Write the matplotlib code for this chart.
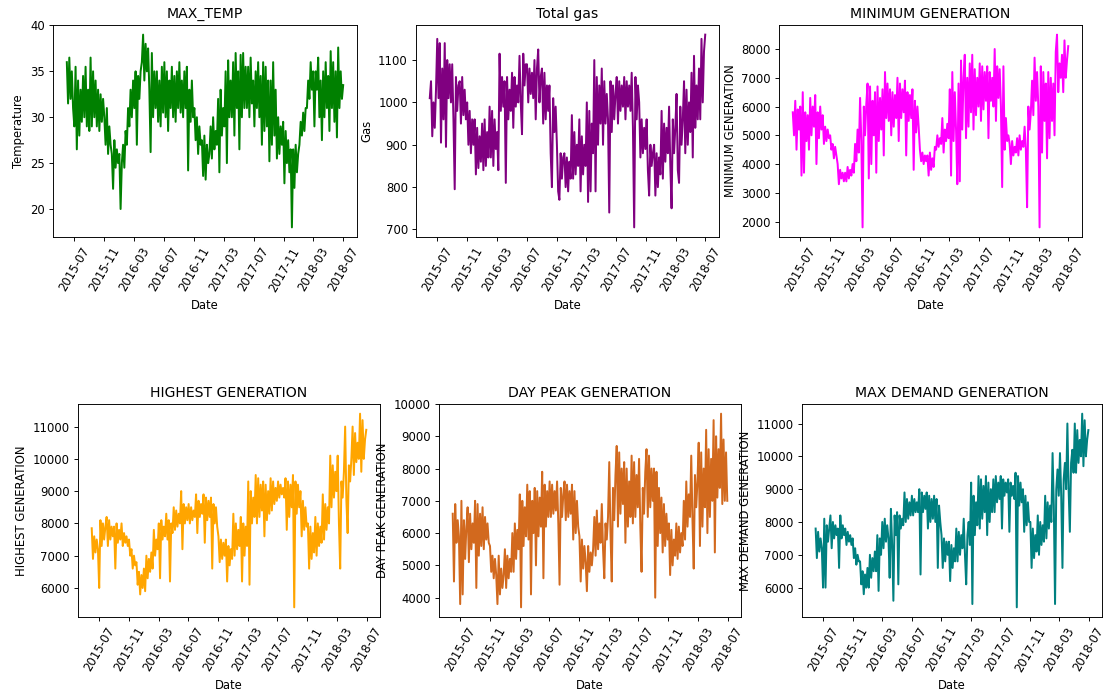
import numpy as np
import pandas as pd
import matplotlib
matplotlib.use("Agg")
import matplotlib.pyplot as plt
import matplotlib.dates as mdates

# six readings per month, Jun 2015 .. Jun 2018
max_temp = [
    36, 31.5, 36.5, 32, 35, 31,        29, 35.5, 26.5, 34, 28, 33,
    29.5, 34.5, 30, 35.5, 29, 33,      28.5, 36.5, 29, 35, 30, 34,
    29, 33, 28.5, 32.5, 29.5, 32,      30, 27, 31, 26, 29, 27,
    26, 22.2, 27.5, 24.5, 26.5, 25,
    26, 20, 25, 27, 24.5, 28.5,        27, 31, 29, 33, 30, 34,
    31, 35, 27, 34.5, 32, 35,          36, 39, 34, 38, 35, 37.5,
    33, 26.2, 37, 30, 35, 31,          35, 29.5, 34, 29, 35.5, 30.5,
    36, 30, 35, 28.5, 34, 31,          35.5, 30, 34.5, 29.5, 35, 31,
    36, 30.5, 34, 30, 35, 31,          35.5, 24.2, 33, 29.5, 34, 30,
    31, 27.5, 30, 26, 29, 27,          27.5, 23.6, 28, 23.2, 27, 25,
    26, 29, 25.5, 30, 26.5, 28.5,      27, 32, 24, 33, 28, 31,
    29, 35, 25, 36.2, 30, 34,          30, 36, 28, 37, 31, 35,
    26.5, 36.8, 30, 37, 31, 35.5,      31, 35.5, 30, 36.5, 31.5, 34,
    29, 35, 31, 36, 30, 34.5,          27, 36, 28.5, 35.5, 29, 34,
    25.2, 34, 27, 36, 28, 33,          25.5, 30, 26, 29, 27, 29.5,
    22.8, 28.5, 25, 27.5, 24, 26.5,    18, 26.5, 22.3, 27, 24, 26,
    27, 29.5, 28, 30.5, 28.5, 31,      31, 34, 32, 36, 33, 35,
    29, 35, 33, 36.5, 30, 34,          27.5, 35, 30, 36, 31, 34.5,
    28.5, 37.2, 31, 36, 29.5, 35,      27.8, 37.6, 31, 35, 32, 33.5,
]

total_gas = [
    1010, 1050, 920, 1000, 940, 1030,   1150, 1010, 1140, 905, 1080, 960,
    1140, 895, 1100, 1010, 1090, 1000,  1090, 960, 795, 1060, 980, 1040,
    1050, 950, 1060, 970, 1030, 960,    1000, 900, 980, 880, 960, 900,
    960, 830, 940, 845, 920, 860,
    950, 840, 960, 850, 930, 870,       990, 870, 980, 850, 960, 890,
    930, 840, 1115, 980, 1060, 990,     1050, 810, 1060, 960, 1030, 980,
    1070, 940, 1060, 990, 1040, 1000,   1110, 1000, 925, 1115, 1040, 1090,
    1090, 1000, 1080, 1020, 1070, 1010, 1100, 960, 1080, 1125, 1000, 1060,
    1080, 950, 1070, 960, 1040, 980,    1040, 880, 800, 1010, 930, 990,
    900, 790, 770, 880, 820, 870,       880, 800, 870, 790, 860, 820,
    970, 820, 930, 830, 900, 850,       960, 790, 920, 830, 900, 850,
    1000, 765, 980, 790, 950, 880,      1100, 790, 1060, 900, 1040, 950,
    1080, 900, 1050, 950, 1020, 960,    740, 1050, 930, 1040, 960, 1020,
    1060, 950, 1050, 980, 1040, 990,    1060, 960, 1050, 990, 1040, 980,
    1070, 940, 705, 1060, 960, 1040,    1000, 870, 960, 880, 940, 890,
    960, 840, 780, 900, 850, 880,       900, 780, 880, 800, 870, 830,
    980, 820, 950, 860, 940, 880,       990, 850, 750, 960, 880, 940,
    1020, 840, 810, 990, 900, 960,      1050, 880, 1030, 900, 1000, 930,
    1070, 870, 1110, 940, 1040, 960,    1080, 960, 1150, 1000, 1120, 1160,
]

min_gen = [
    5800, 5000, 6200, 4500, 5900, 5200,  6000, 3600, 6500, 3700, 5800, 4800,
    5700, 4500, 6300, 5000, 6000, 5300,  6400, 4000, 5800, 4900, 6000, 5200,
    5700, 4700, 5300, 4800, 5200, 4900,  5000, 4500, 4700, 4200, 4600, 4300,
    4000, 3300, 3800, 3500, 3700, 3400,
    3700, 3400, 3900, 3500, 3800, 3600,  4000, 3700, 4700, 4100, 5200, 4400,
    6300, 4800, 1800, 6000, 5000, 6100,  6800, 3500, 6700, 4000, 6200, 5000,
    6500, 3700, 6700, 4800, 6300, 5200,  6600, 4300, 7200, 5600, 6800, 5500,
    6600, 5000, 6500, 5300, 6400, 5600,  7000, 4800, 6800, 5600, 6600, 5800,
    6900, 4300, 6500, 5500, 6400, 5600,  6600, 3800, 6200, 5100, 6000, 5300,
    4500, 4100, 4400, 4000, 4300, 4100,  4300, 3600, 4400, 3800, 4200, 3900,
    4600, 4500, 5000, 4600, 4900, 4700,  5600, 4400, 5200, 4800, 5400, 4900,
    6600, 3600, 7200, 4800, 6500, 5200,  3300, 6800, 3400, 7600, 5200, 7000,
    7800, 4900, 7000, 5300, 7500, 5800,  7800, 5200, 7300, 5700, 7000, 6000,
    7500, 5500, 7400, 5900, 7200, 6200,  7400, 4900, 7200, 6200, 7000, 6000,
    8000, 5500, 7400, 6300, 7300, 6000,  3200, 7400, 4500, 5600, 4800, 5000,
    4700, 4000, 4800, 4300, 4600, 4400,  4900, 4300, 5000, 4500, 4800, 4600,
    5300, 4500, 2500, 6000, 5200, 5800,  6900, 5700, 7700, 6200, 7200, 6000,
    1800, 7400, 4400, 7200, 5500, 6800,  4200, 7200, 4900, 7000, 5500, 6800,
    5000, 7900, 8500, 6500, 7500, 7000,  7800, 6500, 8300, 7000, 7600, 8100,
]

high_gen = [
    7850, 6900, 7600, 7100, 7500, 7200,  6000, 8100, 7300, 8000, 7500, 7900,
    8200, 7300, 8100, 7500, 7900, 7600,  7900, 6600, 8000, 7400, 7800, 7500,
    8000, 7300, 7700, 7400, 7600, 7300,  7500, 7000, 7200, 6600, 7000, 6700,
    6800, 6100, 6500, 5800, 6400, 6000,
    6600, 5900, 7000, 6300, 6900, 6500,  7100, 6600, 7800, 7000, 7500, 7200,
    8000, 6300, 8100, 7500, 7900, 7600,  8300, 7500, 8100, 6200, 8000, 7700,
    8500, 7800, 8400, 7900, 8300, 8000,  9000, 7200, 8600, 8000, 8500, 8100,
    8600, 8000, 8500, 8100, 8400, 8200,  8900, 7700, 8700, 8200, 8600, 8300,
    8900, 7400, 8800, 8100, 8700, 8200,  8800, 6600, 8600, 8000, 8500, 7900,
    7600, 6800, 7500, 6900, 7400, 7000,  7500, 6200, 7300, 6700, 7200, 6900,
    8300, 7000, 8000, 7200, 7800, 7300,  8200, 6200, 8000, 7000, 7900, 7300,
    9300, 6100, 9000, 8000, 8800, 8200,  9500, 8000, 9400, 8200, 9200, 8400,
    9300, 7600, 9200, 8100, 9000, 8300,  9400, 8400, 9300, 8600, 9100, 8700,
    9300, 8800, 9200, 8900, 9100, 8800,  9400, 7800, 9300, 8200, 9200, 8500,
    9500, 5400, 9300, 8300, 9200, 8500,  9000, 7600, 8700, 7800, 8500, 7900,
    8000, 6600, 7900, 6900, 7700, 7100,  8200, 7000, 8000, 7300, 7900, 7400,
    8900, 7500, 8600, 7800, 8500, 8000,  10100, 8500, 9800, 8800, 9600, 9000,
    10100, 8000, 6600, 9300, 8800, 9600, 11000, 8700, 7700, 9800, 9300, 10000,
    11000, 9500, 10800, 9900, 10500, 10000, 11400, 9600, 11200, 10000, 10600, 10900,
]

day_peak = [
    6600, 4500, 6900, 5700, 6400, 5900,  3800, 7000, 4100, 6400, 5200, 6200,
    6800, 5100, 6600, 5500, 6300, 5700,  7000, 4300, 6900, 5300, 6600, 5600,
    6800, 5500, 6500, 5800, 6300, 5700,  5600, 4800, 5300, 4600, 5200, 4700,
    3800, 5300, 4100, 4900, 4300, 4700,
    5500, 4300, 5300, 4600, 5200, 4800,  6000, 4800, 6300, 5200, 6100, 5500,
    7200, 3700, 7000, 5600, 6800, 5900,  7500, 5800, 7300, 4100, 7000, 6000,
    7400, 5000, 7300, 5900, 7100, 6200,  7900, 4600, 7500, 6200, 7300, 6500,
    7600, 6500, 7500, 6600, 7300, 6700,  7600, 6300, 4400, 7400, 6500, 7200,
    7600, 6400, 7500, 6500, 7300, 6600,  7500, 5800, 7300, 6000, 7000, 6200,
    5900, 4500, 5800, 4900, 5600, 5100,  4200, 5600, 4800, 5400, 5000, 5500,
    6500, 5300, 6700, 5500, 6300, 5700,  6900, 5500, 4600, 6300, 5800, 6500,
    8200, 6000, 4500, 7400, 6400, 7800,  8700, 6200, 8500, 6600, 8000, 6900,
    8200, 5700, 8000, 6200, 7600, 6500,  8400, 6300, 8200, 6500, 7800, 6800,
    8300, 6200, 4800, 7400, 6600, 7900,  8600, 6500, 8400, 6800, 8000, 7000,
    8000, 4000, 7900, 5600, 7400, 6000,  7100, 5400, 6900, 5600, 6600, 5800,
    6300, 4700, 6100, 5000, 5800, 5300,  6300, 5200, 6200, 5400, 6000, 5600,
    7000, 5800, 7600, 6200, 7200, 6500,  8400, 6400, 4900, 7800, 6800, 7600,
    8800, 5600, 8500, 6200, 8000, 6800,  9200, 6000, 8600, 6500, 8300, 7000,
    9500, 5400, 9000, 7100, 8600, 7400,  9700, 6900, 8900, 7000, 8500, 7000,
]

max_demand = [
    7800, 6900, 7700, 7100, 7500, 7200,  6000, 8100, 6000, 7900, 7400, 7800,
    8200, 7200, 8000, 7500, 7900, 7600,  7800, 6600, 8200, 7500, 7900, 7600,
    7800, 7300, 7700, 7400, 7600, 7300,  7500, 6900, 7200, 6700, 7000, 6800,
    6800, 6100, 6500, 5800, 6400, 6000,
    6600, 6000, 7000, 6300, 6900, 6500,  7100, 6500, 7600, 5900, 7500, 7000,
    8000, 7200, 8100, 7400, 7900, 7500,  6300, 8400, 7300, 5600, 8200, 7600,
    8300, 6100, 8200, 7800, 8100, 7900,  8900, 8000, 8700, 8100, 8600, 8200,
    8800, 8200, 8700, 8300, 8600, 8300,  9000, 6400, 8900, 8300, 8800, 8400,
    8900, 7800, 8800, 8000, 8700, 8100,  8800, 8000, 8700, 6600, 8500, 8000,
    7600, 6600, 7500, 6800, 7400, 7000,  7400, 6200, 7300, 6600, 7200, 6800,
    7800, 6800, 7700, 7000, 7600, 7200,  8100, 7000, 6100, 7600, 8000, 7300,
    9200, 5500, 8800, 7600, 8600, 7900,  9400, 7800, 9300, 8100, 9100, 8300,
    9400, 7600, 9200, 8000, 9000, 8300,  9300, 8300, 9400, 8600, 9200, 8700,
    9400, 7800, 9300, 8800, 9200, 8900,  9300, 7700, 9200, 8800, 9100, 8700,
    9500, 5400, 9400, 8500, 9200, 8600,  9000, 7700, 8800, 7900, 8600, 8000,
    8000, 6600, 7800, 6900, 7600, 7100,  8200, 7000, 8000, 7300, 7900, 7400,
    8800, 7500, 8600, 7800, 8500, 8000,  10100, 8500, 5500, 9000, 9600, 8800,
    10100, 8800, 6600, 9300, 9800, 9000, 11000, 9000, 7700, 9800, 10200, 9500,
    11000, 9500, 10800, 9800, 10500, 10000, 11300, 9700, 11100, 10000, 10500, 10800,
]

dates = pd.date_range('2015-06-01', '2018-06-30', periods=len(max_temp))

panels = [
    (max_temp, 'green', 'MAX_TEMP', 'Temperature'),
    (total_gas, 'purple', 'Total gas', 'Gas'),
    (min_gen, 'magenta', 'MINIMUM GENERATION', 'MINIMUM GENERATION'),
    (high_gen, 'orange', 'HIGHEST GENERATION', 'HIGHEST GENERATION'),
    (day_peak, 'chocolate', 'DAY PEAK GENERATION', 'DAY PEAK GENERATION'),
    (max_demand, 'teal', 'MAX DEMAND GENERATION', 'MAX DEMAND GENERATION'),
]

# axes boxes in pixels: left, top, width, height
W, H = 1106, 695
DPI = 84
boxes = [
    (53, 25, 304, 212), (416, 25, 303, 212), (779, 25, 303, 212),
    (78, 404, 302, 213), (439, 404, 302, 213), (802, 404, 300, 213),
]

fig = plt.figure(figsize=(W / DPI, H / DPI), dpi=DPI)

for (vals, col, title, ylab), (l, t, w, h) in zip(panels, boxes):
    ax = fig.add_axes([l / W, (H - t - h) / H, w / W, h / H])
    ax.plot(dates, vals, color=col, linewidth=1.7)
    ax.set_title(title)
    ax.set_xlabel('Date')
    ax.set_ylabel(ylab)
    ax.xaxis.set_major_locator(mdates.MonthLocator(bymonth=[3, 7, 11]))
    ax.xaxis.set_major_formatter(mdates.DateFormatter('%Y-%m'))
    plt.setp(ax.get_xticklabels(), rotation=60)

fig.savefig('out.png', dpi=DPI)
